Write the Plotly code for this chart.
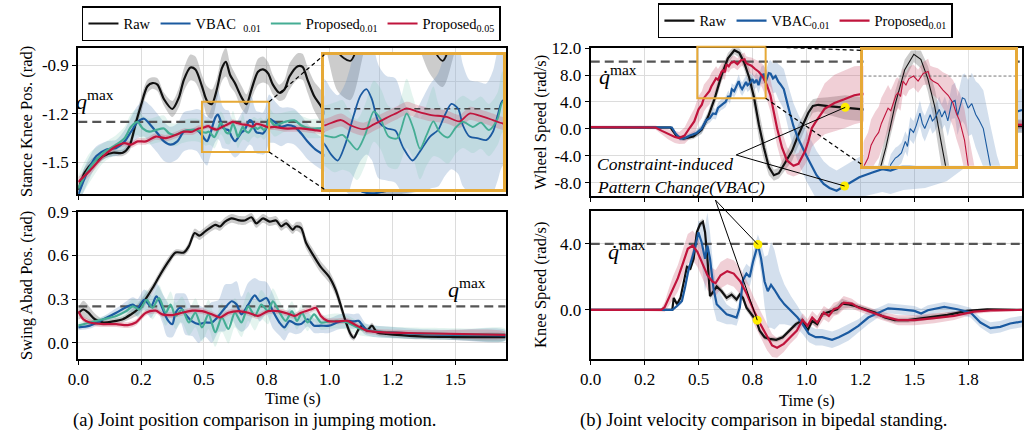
import plotly.graph_objects as go

W, H = 1030, 440
FONT = "Liberation Serif"

# ---------------- DATA (rows = time [s], mean, spread) ----------------
# (a) top: stance knee position (rad)
A_TOP_RAW = [
    (0.000, -1.67, 0.04), (0.026, -1.56, 0.03), (0.058, -1.50, 0.03), (0.100, -1.46, 0.02),
    (0.138, -1.44, 0.02), (0.177, -1.44, 0.02), (0.203, -1.40, 0.03), (0.230, -1.25, 0.04),
    (0.249, -1.15, 0.05), (0.275, -1.03, 0.04), (0.295, -1.01, 0.035), (0.315, -1.02, 0.04),
    (0.341, -1.11, 0.04), (0.374, -1.17, 0.05), (0.400, -1.10, 0.06), (0.420, -0.99, 0.07),
    (0.446, -0.914, 0.08), (0.466, -0.926, 0.08), (0.492, -1.03, 0.07), (0.512, -1.12, 0.09),
    (0.531, -1.14, 0.09), (0.551, -1.05, 0.07), (0.571, -0.92, 0.08), (0.587, -0.88, 0.09),
    (0.604, -0.96, 0.07), (0.623, -1.01, 0.06), (0.650, -1.10, 0.07), (0.669, -1.14, 0.06),
    (0.689, -1.05, 0.06), (0.715, -0.94, 0.08), (0.735, -0.926, 0.08), (0.755, -0.95, 0.07),
    (0.774, -1.02, 0.06), (0.800, -1.07, 0.05), (0.820, -1.05, 0.06), (0.840, -0.97, 0.08),
    (0.873, -0.906, 0.08), (0.892, -0.91, 0.08), (0.912, -0.99, 0.08), (0.938, -1.09, 0.09),
    (0.964, -1.15, 0.10), (1.000, -1.25, 0.10), (1.050, -1.40, 0.08), (1.100, -1.55, 0.06),
    (1.150, -1.66, 0.04), (1.200, -1.68, 0.04), (1.300, -1.65, 0.04), (1.400, -1.62, 0.04),
    (1.500, -1.60, 0.04), (1.600, -1.59, 0.04), (1.700, -1.58, 0.04),
]
A_TOP_VBAC = [
    (0.000, -1.70, 0.06), (0.033, -1.57, 0.07), (0.072, -1.46, 0.06), (0.112, -1.42, 0.05),
    (0.151, -1.41, 0.05), (0.184, -1.37, 0.07), (0.210, -1.31, 0.09), (0.236, -1.25, 0.10),
    (0.262, -1.23, 0.11), (0.288, -1.27, 0.12), (0.315, -1.32, 0.12), (0.341, -1.37, 0.12),
    (0.367, -1.39, 0.11), (0.394, -1.37, 0.11), (0.420, -1.31, 0.12), (0.446, -1.30, 0.12),
    (0.472, -1.30, 0.13), (0.493, -1.333, 0.15), (0.502, -1.355, 0.15), (0.512, -1.369, 0.15),
    (0.523, -1.333, 0.14), (0.536, -1.265, 0.14), (0.546, -1.220, 0.15), (0.555, -1.205, 0.15),
    (0.563, -1.228, 0.14), (0.573, -1.280, 0.13), (0.585, -1.295, 0.12), (0.598, -1.300, 0.12),
    (0.610, -1.340, 0.11), (0.624, -1.369, 0.10), (0.635, -1.348, 0.11), (0.650, -1.314, 0.12),
    (0.662, -1.299, 0.13), (0.672, -1.265, 0.14), (0.682, -1.239, 0.15), (0.692, -1.250, 0.15),
    (0.699, -1.288, 0.14), (0.709, -1.314, 0.13), (0.722, -1.318, 0.13), (0.734, -1.322, 0.13),
    (0.744, -1.303, 0.14), (0.751, -1.265, 0.15), (0.759, -1.231, 0.15), (0.781, -1.25, 0.13),
    (0.807, -1.28, 0.12), (0.833, -1.27, 0.11), (0.860, -1.28, 0.11), (0.886, -1.32, 0.11),
    (0.912, -1.37, 0.11), (0.944, -1.42, 0.10), (0.984, -1.46, 0.10), (1.030, -1.53, 0.09),
    (1.080, -1.62, 0.08), (1.130, -1.68, 0.06), (1.180, -1.69, 0.06), (1.250, -1.66, 0.06),
    (1.350, -1.62, 0.06), (1.450, -1.60, 0.06), (1.550, -1.59, 0.06), (1.700, -1.58, 0.06),
]
A_TOP_P01 = [
    (0.000, -1.66, 0.08), (0.046, -1.53, 0.09), (0.100, -1.44, 0.06), (0.151, -1.39, 0.06),
    (0.184, -1.35, 0.07), (0.210, -1.28, 0.08), (0.236, -1.25, 0.08), (0.256, -1.29, 0.08),
    (0.282, -1.31, 0.08), (0.308, -1.30, 0.08), (0.341, -1.29, 0.08), (0.361, -1.32, 0.07),
    (0.387, -1.33, 0.07), (0.413, -1.31, 0.07), (0.440, -1.30, 0.07), (0.472, -1.30, 0.07),
    (0.493, -1.312, 0.07), (0.507, -1.316, 0.08), (0.519, -1.310, 0.08), (0.529, -1.325, 0.07),
    (0.541, -1.344, 0.07), (0.553, -1.310, 0.07), (0.566, -1.256, 0.07), (0.576, -1.273, 0.07),
    (0.588, -1.314, 0.07), (0.601, -1.318, 0.07), (0.615, -1.261, 0.08), (0.625, -1.295, 0.07),
    (0.635, -1.342, 0.07), (0.645, -1.310, 0.07), (0.655, -1.279, 0.08), (0.664, -1.303, 0.06),
    (0.677, -1.316, 0.06), (0.689, -1.292, 0.06), (0.699, -1.280, 0.06), (0.714, -1.292, 0.06),
    (0.726, -1.282, 0.06), (0.738, -1.299, 0.06), (0.751, -1.273, 0.06), (0.759, -1.234, 0.07),
    (0.781, -1.27, 0.07), (0.820, -1.25, 0.06), (0.860, -1.24, 0.06), (0.886, -1.27, 0.06),
    (0.918, -1.29, 0.06), (0.951, -1.29, 0.06), (0.977, -1.29, 0.06), (1.030, -1.35, 0.07),
    (1.100, -1.50, 0.07), (1.200, -1.60, 0.06), (1.350, -1.60, 0.05), (1.500, -1.59, 0.05),
    (1.700, -1.58, 0.05),
]
A_TOP_P05 = [
    (0.000, -1.62, 0.03), (0.046, -1.55, 0.03), (0.100, -1.46, 0.02), (0.151, -1.40, 0.02),
    (0.184, -1.38, 0.02), (0.210, -1.39, 0.02), (0.236, -1.37, 0.02), (0.269, -1.37, 0.02),
    (0.308, -1.34, 0.02), (0.348, -1.35, 0.02), (0.387, -1.33, 0.02), (0.420, -1.31, 0.02),
    (0.453, -1.31, 0.02), (0.479, -1.29, 0.02), (0.493, -1.288, 0.015), (0.517, -1.276, 0.015),
    (0.531, -1.288, 0.015), (0.551, -1.297, 0.015), (0.566, -1.286, 0.015), (0.585, -1.271, 0.015),
    (0.600, -1.260, 0.015), (0.615, -1.249, 0.015), (0.630, -1.256, 0.015), (0.650, -1.264, 0.015),
    (0.675, -1.269, 0.015), (0.694, -1.279, 0.015), (0.709, -1.261, 0.015), (0.724, -1.266, 0.015),
    (0.744, -1.276, 0.015), (0.759, -1.284, 0.015), (0.780, -1.28, 0.02), (0.820, -1.29, 0.02),
    (0.886, -1.29, 0.02), (0.938, -1.30, 0.02), (0.977, -1.31, 0.02), (1.050, -1.38, 0.03),
    (1.150, -1.52, 0.03), (1.300, -1.58, 0.03), (1.500, -1.59, 0.03), (1.700, -1.59, 0.03),
]

# (a) bottom: swing abad position (rad)
A_BOT_RAW = [
    (0.000, 0.200, 0.04), (0.020, 0.228, 0.06), (0.040, 0.206, 0.05), (0.066, 0.161, 0.04),
    (0.100, 0.139, 0.02), (0.138, 0.146, 0.02), (0.177, 0.161, 0.02), (0.210, 0.195, 0.03),
    (0.236, 0.228, 0.04), (0.262, 0.285, 0.04), (0.295, 0.374, 0.03), (0.328, 0.474, 0.03),
    (0.361, 0.564, 0.03), (0.387, 0.620, 0.02), (0.420, 0.620, 0.02), (0.440, 0.664, 0.03),
    (0.463, 0.754, 0.03), (0.482, 0.736, 0.03), (0.505, 0.765, 0.03), (0.545, 0.810, 0.03),
    (0.564, 0.799, 0.03), (0.584, 0.832, 0.03), (0.610, 0.855, 0.03), (0.636, 0.843, 0.03),
    (0.662, 0.840, 0.03), (0.689, 0.862, 0.03), (0.708, 0.820, 0.03), (0.735, 0.855, 0.03),
    (0.761, 0.832, 0.03), (0.787, 0.840, 0.03), (0.807, 0.800, 0.03), (0.827, 0.820, 0.03),
    (0.853, 0.777, 0.03), (0.866, 0.799, 0.03), (0.886, 0.788, 0.04), (0.906, 0.687, 0.04),
    (0.932, 0.609, 0.04), (0.965, 0.519, 0.04), (0.998, 0.452, 0.04), (1.024, 0.362, 0.04),
    (1.043, 0.262, 0.04), (1.063, 0.150, 0.03), (1.083, 0.060, 0.03), (1.096, 0.034, 0.02),
    (1.112, 0.083, 0.02), (1.129, 0.117, 0.02), (1.148, 0.083, 0.02), (1.168, 0.117, 0.02),
    (1.188, 0.072, 0.02), (1.227, 0.060, 0.02), (1.358, 0.043, 0.02), (1.490, 0.039, 0.02),
    (1.700, 0.039, 0.02),
]
A_BOT_VBAC = [
    (0.000, 0.105, 0.02), (0.046, 0.117, 0.02), (0.100, 0.161, 0.02), (0.151, 0.206, 0.03),
    (0.190, 0.244, 0.04), (0.217, 0.262, 0.05), (0.236, 0.240, 0.06), (0.262, 0.295, 0.07),
    (0.289, 0.250, 0.08), (0.311, 0.318, 0.09), (0.334, 0.240, 0.10), (0.354, 0.161, 0.12),
    (0.374, 0.128, 0.09), (0.387, 0.206, 0.13), (0.407, 0.240, 0.10), (0.426, 0.195, 0.14),
    (0.453, 0.146, 0.10), (0.479, 0.128, 0.13), (0.505, 0.139, 0.10), (0.531, 0.139, 0.14),
    (0.558, 0.184, 0.11), (0.584, 0.240, 0.16), (0.610, 0.285, 0.12), (0.630, 0.262, 0.16),
    (0.649, 0.195, 0.12), (0.676, 0.262, 0.15), (0.702, 0.325, 0.12), (0.722, 0.285, 0.14),
    (0.748, 0.307, 0.11), (0.774, 0.217, 0.12), (0.800, 0.139, 0.09), (0.820, 0.105, 0.09),
    (0.840, 0.150, 0.08), (0.866, 0.128, 0.07), (0.886, 0.128, 0.06), (0.912, 0.161, 0.05),
    (0.938, 0.117, 0.05), (0.965, 0.117, 0.05), (0.998, 0.117, 0.05), (1.030, 0.139, 0.05),
    (1.063, 0.150, 0.05), (1.096, 0.146, 0.05), (1.115, 0.150, 0.05), (1.142, 0.094, 0.04),
    (1.174, 0.079, 0.04), (1.227, 0.072, 0.04), (1.358, 0.060, 0.035), (1.490, 0.054, 0.035),
    (1.700, 0.050, 0.035),
]
A_BOT_P01 = [
    (0.000, 0.117, 0.02), (0.046, 0.139, 0.02), (0.100, 0.161, 0.02), (0.151, 0.184, 0.03),
    (0.190, 0.217, 0.04), (0.217, 0.250, 0.05), (0.243, 0.228, 0.06), (0.272, 0.295, 0.07),
    (0.295, 0.240, 0.08), (0.321, 0.307, 0.09), (0.348, 0.206, 0.09), (0.367, 0.262, 0.09),
    (0.387, 0.184, 0.09), (0.413, 0.228, 0.09), (0.440, 0.139, 0.09), (0.466, 0.206, 0.10),
    (0.492, 0.105, 0.10), (0.518, 0.195, 0.10), (0.545, 0.072, 0.10), (0.571, 0.173, 0.10),
    (0.597, 0.094, 0.10), (0.623, 0.206, 0.10), (0.649, 0.139, 0.10), (0.676, 0.250, 0.10),
    (0.702, 0.184, 0.10), (0.728, 0.262, 0.10), (0.755, 0.217, 0.09), (0.774, 0.285, 0.09),
    (0.800, 0.210, 0.08), (0.825, 0.150, 0.07), (0.850, 0.215, 0.07), (0.870, 0.150, 0.06),
    (0.890, 0.206, 0.06), (0.912, 0.139, 0.06), (0.938, 0.195, 0.05), (0.965, 0.139, 0.05),
    (0.998, 0.146, 0.05), (1.030, 0.150, 0.05), (1.070, 0.139, 0.05), (1.122, 0.094, 0.045),
    (1.174, 0.079, 0.04), (1.250, 0.070, 0.04), (1.400, 0.062, 0.04), (1.550, 0.057, 0.04),
    (1.700, 0.055, 0.04),
]
A_BOT_P05 = [
    (0.000, 0.217, 0.02), (0.020, 0.161, 0.02), (0.046, 0.139, 0.02), (0.100, 0.128, 0.02),
    (0.151, 0.128, 0.02), (0.197, 0.121, 0.02), (0.229, 0.139, 0.02), (0.269, 0.206, 0.02),
    (0.308, 0.220, 0.02), (0.334, 0.195, 0.02), (0.374, 0.190, 0.02), (0.413, 0.206, 0.02),
    (0.453, 0.220, 0.02), (0.492, 0.217, 0.02), (0.531, 0.195, 0.02), (0.564, 0.173, 0.02),
    (0.597, 0.206, 0.02), (0.636, 0.217, 0.02), (0.676, 0.206, 0.02), (0.715, 0.184, 0.02),
    (0.755, 0.217, 0.02), (0.794, 0.217, 0.02), (0.833, 0.200, 0.02), (0.860, 0.184, 0.02),
    (0.886, 0.206, 0.02), (0.925, 0.228, 0.02), (0.945, 0.240, 0.02), (0.965, 0.184, 0.02),
    (0.991, 0.150, 0.02), (1.030, 0.146, 0.02), (1.070, 0.150, 0.02), (1.109, 0.117, 0.02),
    (1.148, 0.083, 0.02), (1.201, 0.072, 0.02), (1.358, 0.065, 0.02), (1.700, 0.054, 0.02),
]

# (b) top: wheel speed (rad/s)
B_TOP_RAW = [
    (0.000, 0.20, 0.2), (0.200, 0.20, 0.2), (0.370, 0.20, 0.2), (0.399, -1.12, 0.3),
    (0.430, -1.46, 0.3), (0.476, -1.12, 0.4), (0.514, -0.15, 0.6), (0.544, 1.79, 0.8),
    (0.574, 4.45, 1.0), (0.605, 7.85, 1.0), (0.636, 10.5, 0.8), (0.666, 11.7, 0.6),
    (0.689, 11.3, 0.7), (0.712, 9.8, 1.0), (0.735, 7.6, 1.4), (0.757, 4.7, 1.8),
    (0.780, 0.58, 2.0), (0.803, -2.8, 1.8), (0.826, -5.7, 1.2), (0.849, -6.9, 0.8),
    (0.872, -6.6, 0.8), (0.902, -5.0, 1.2), (0.933, -3.3, 1.5), (0.963, -0.87, 1.6),
    (0.994, 1.3, 1.4), (1.009, 2.4, 1.2), (1.030, 3.4, 1.0), (1.055, 3.58, 1.0),
    (1.100, 3.39, 1.3), (1.146, 3.25, 1.6), (1.180, 3.20, 1.8), (1.237, 3.0, 1.8),
    (1.300, 2.8, 1.6), (1.400, 2.4, 1.4), (1.500, 1.8, 1.3), (1.600, 1.1, 1.2),
    (1.700, 0.6, 1.1), (1.800, 0.3, 1.0), (1.900, 0.3, 1.0), (2.000, 0.4, 1.0),
]
B_TOP_VBAC = [
    (0.000, 0.25, 0.2), (0.200, 0.25, 0.2), (0.376, 0.20, 0.2), (0.392, -0.64, 0.3),
    (0.415, -1.46, 0.4), (0.437, -1.37, 0.4), (0.460, -0.98, 0.4), (0.490, -0.64, 0.5),
    (0.514, 0.00, 0.6), (0.536, 1.30, 0.7), (0.552, 1.60, 0.7), (0.567, 2.30, 0.8),
    (0.580, 2.20, 0.8), (0.590, 3.10, 0.8), (0.605, 3.60, 0.8), (0.613, 3.72, 0.8),
    (0.625, 4.00, 0.8), (0.638, 4.90, 0.8), (0.645, 4.50, 0.8), (0.654, 5.90, 0.9),
    (0.665, 5.60, 0.9), (0.674, 6.15, 0.9), (0.686, 7.10, 1.0), (0.694, 6.30, 1.0),
    (0.702, 5.90, 1.0), (0.712, 6.50, 1.0), (0.720, 6.98, 1.0), (0.727, 6.50, 1.0),
    (0.735, 6.70, 1.0), (0.750, 7.40, 1.0), (0.758, 6.80, 1.0), (0.768, 7.30, 1.1),
    (0.778, 6.50, 1.2), (0.791, 7.97, 1.3), (0.802, 8.10, 1.4), (0.810, 6.90, 1.5),
    (0.818, 7.70, 1.6), (0.826, 8.30, 1.8), (0.834, 8.20, 2.0), (0.845, 7.50, 2.2),
    (0.857, 7.85, 2.4), (0.870, 7.00, 2.6), (0.880, 6.60, 2.8), (0.895, 5.90, 3.0),
    (0.918, 3.00, 3.2), (0.940, 0.40, 3.4), (0.963, -1.50, 3.6), (1.000, -4.00, 3.8),
    (1.047, -6.90, 3.6), (1.080, -8.20, 3.4), (1.107, -8.80, 3.2), (1.140, -9.20, 3.0),
    (1.177, -8.50, 3.0), (1.210, -7.90, 3.0), (1.245, -7.20, 3.0), (1.306, -6.50, 3.2),
    (1.352, -6.00, 3.4), (1.390, -6.20, 3.5), (1.450, -5.50, 3.6), (1.550, -5.00, 3.8),
    (1.650, -4.00, 3.8), (1.750, -2.00, 3.4), (1.850, 0.50, 3.0), (1.950, 2.30, 3.0),
    (2.000, 2.80, 3.2),
]
B_TOP_P01 = [
    (0.000, 0.25, 0.2), (0.200, 0.25, 0.2), (0.300, 0.20, 0.3), (0.330, -0.30, 0.5),
    (0.360, -0.80, 0.8), (0.390, -1.20, 0.9), (0.410, -1.37, 0.9), (0.435, -1.00, 1.2),
    (0.460, 0.20, 1.6), (0.480, 1.10, 1.9), (0.500, 2.90, 2.0), (0.515, 3.60, 2.0),
    (0.525, 4.60, 2.0), (0.538, 5.20, 2.0), (0.550, 5.60, 2.0), (0.559, 6.30, 2.0),
    (0.570, 6.90, 1.9), (0.581, 7.50, 1.8), (0.590, 7.30, 1.6), (0.598, 7.90, 1.5),
    (0.607, 8.50, 1.3), (0.614, 8.70, 1.2), (0.622, 8.40, 1.1), (0.630, 9.60, 1.0),
    (0.640, 9.30, 0.9), (0.650, 9.80, 0.9), (0.665, 10.0, 0.9), (0.680, 9.60, 0.9),
    (0.697, 10.2, 0.9), (0.713, 10.35, 1.0), (0.720, 9.80, 1.0), (0.730, 9.60, 1.1),
    (0.745, 9.40, 1.2), (0.762, 8.90, 1.4), (0.779, 8.50, 1.6), (0.795, 7.90, 1.8),
    (0.806, 7.10, 2.0), (0.817, 6.50, 2.2), (0.833, 5.00, 2.4), (0.845, 3.00, 2.6),
    (0.864, 0.10, 2.6), (0.887, -2.80, 2.4), (0.910, -4.70, 2.0), (0.940, -5.50, 1.6),
    (0.963, -5.20, 1.6), (0.994, -3.30, 2.0), (1.009, -1.85, 2.4), (1.025, 0.10, 2.8),
    (1.040, 0.90, 3.0), (1.085, 3.00, 3.8), (1.130, 3.85, 4.2), (1.176, 4.40, 4.3),
    (1.222, 5.00, 4.3), (1.260, 5.20, 4.2), (1.350, 5.00, 3.8), (1.450, 4.00, 3.2),
    (1.550, 3.00, 2.6), (1.650, 2.00, 2.0), (1.750, 1.20, 1.5), (1.850, 0.80, 1.0),
    (2.000, 0.60, 0.6),
]

# (b) bottom: knee speed (rad/s)
B_BOT_RAW = [
    (0.000, 0.00, 0.05), (0.200, 0.00, 0.05), (0.378, 0.00, 0.05), (0.385, 0.73, 0.10),
    (0.400, 0.34, 0.10), (0.416, 0.73, 0.10), (0.431, 1.72, 0.15), (0.446, 2.61, 0.15),
    (0.462, 2.50, 0.15), (0.477, 3.10, 0.15), (0.492, 4.70, 0.20), (0.507, 5.19, 0.20),
    (0.520, 5.33, 0.20), (0.530, 4.70, 0.20), (0.541, 3.10, 0.20), (0.553, 0.83, 0.20),
    (0.569, 1.13, 0.20), (0.584, 1.42, 0.20), (0.607, 1.13, 0.20), (0.630, 0.73, 0.20),
    (0.653, 0.93, 0.20), (0.676, 0.63, 0.20), (0.691, 0.93, 0.20), (0.706, 0.73, 0.20),
    (0.722, 0.14, 0.20), (0.745, -0.26, 0.20), (0.768, -0.66, 0.20), (0.783, -1.25, 0.20),
    (0.806, -1.65, 0.15), (0.829, -1.75, 0.15), (0.860, -1.81, 0.15), (0.890, -1.65, 0.15),
    (0.920, -1.25, 0.15), (0.951, -0.86, 0.15), (0.982, -0.62, 0.20), (1.005, -1.25, 0.20),
    (1.027, -0.66, 0.20), (1.050, -0.86, 0.20), (1.073, -0.26, 0.20), (1.096, -0.16, 0.20),
    (1.119, -0.06, 0.20), (1.142, 0.04, 0.30), (1.165, 0.38, 0.30), (1.196, 0.34, 0.20),
    (1.226, 0.24, 0.15), (1.272, 0.04, 0.15), (1.318, -0.16, 0.15), (1.364, -0.46, 0.15),
    (1.410, -0.62, 0.15), (1.471, -0.62, 0.15), (1.563, -0.46, 0.15), (1.654, -0.30, 0.15),
    (1.746, -0.06, 0.10), (1.838, 0.04, 0.05), (2.000, 0.00, 0.05),
]
B_BOT_VBAC = [
    (0.000, 0.00, 0.05), (0.200, 0.00, 0.05), (0.378, 0.00, 0.05), (0.400, 0.24, 0.10),
    (0.423, 0.54, 0.15), (0.438, 1.42, 0.20), (0.453, 2.41, 0.30), (0.469, 3.10, 0.40),
    (0.484, 3.80, 0.50), (0.499, 4.70, 0.70), (0.514, 4.10, 1.20), (0.530, 3.10, 2.00),
    (0.541, 3.90, 2.00), (0.553, 3.10, 1.60), (0.569, 1.32, 1.20), (0.584, 0.34, 1.00),
    (0.607, 0.04, 0.80), (0.630, -0.26, 0.60), (0.653, -0.36, 0.50), (0.676, -0.46, 0.50),
    (0.691, 0.14, 0.50), (0.706, 1.82, 0.60), (0.722, 2.20, 0.60), (0.737, 2.00, 0.60),
    (0.752, 2.90, 0.60), (0.768, 3.70, 0.60), (0.775, 3.96, 0.60), (0.790, 3.10, 0.90),
    (0.806, 1.72, 1.50), (0.821, 1.13, 2.20), (0.836, 1.52, 2.60), (0.852, 1.22, 2.40),
    (0.875, 0.73, 1.60), (0.898, 0.34, 1.20), (0.928, -0.06, 0.90), (0.959, -0.46, 0.70),
    (0.982, -0.86, 0.60), (1.012, -1.45, 0.50), (1.043, -1.65, 0.50), (1.073, -1.65, 0.50),
    (1.119, -1.81, 0.50), (1.150, -1.65, 0.50), (1.196, -1.35, 0.50), (1.241, -0.96, 0.40),
    (1.287, -0.46, 0.40), (1.333, -0.16, 0.30), (1.379, 0.10, 0.30), (1.440, 0.04, 0.30),
    (1.501, -0.06, 0.30), (1.532, -0.22, 0.30), (1.563, -0.02, 0.30), (1.639, 0.18, 0.30),
    (1.700, 0.04, 0.30), (1.761, -0.16, 0.30), (1.807, -0.76, 0.30), (1.853, -1.10, 0.35),
    (1.899, -1.02, 0.35), (1.945, -0.82, 0.35), (2.000, -0.70, 0.35),
]
B_BOT_P01 = [
    (0.000, 0.00, 0.05), (0.200, 0.00, 0.05), (0.327, 0.00, 0.10), (0.343, 0.18, 0.30),
    (0.358, 0.63, 0.50), (0.381, 1.32, 0.70), (0.404, 1.92, 0.80), (0.427, 2.80, 0.90),
    (0.450, 3.70, 0.90), (0.473, 3.90, 0.90), (0.495, 3.50, 0.90), (0.518, 2.80, 0.90),
    (0.541, 2.10, 0.90), (0.564, 1.72, 0.80), (0.579, 1.62, 0.80), (0.602, 2.10, 0.80),
    (0.633, 2.35, 0.80), (0.663, 2.20, 0.80), (0.694, 1.72, 0.80), (0.725, 0.93, 0.80),
    (0.757, -0.06, 0.80), (0.787, -0.86, 0.80), (0.818, -1.65, 0.80), (0.841, -2.15, 0.70),
    (0.864, -2.29, 0.60), (0.895, -2.05, 0.50), (0.925, -1.65, 0.40), (0.956, -1.25, 0.40),
    (0.982, -0.60, 0.40), (1.005, -0.96, 0.40), (1.027, -0.46, 0.40), (1.050, -0.76, 0.40),
    (1.081, -0.16, 0.40), (1.104, -0.36, 0.40), (1.127, 0.04, 0.40), (1.150, 0.14, 0.40),
    (1.173, 0.44, 0.40), (1.211, 0.38, 0.30), (1.241, 0.14, 0.25), (1.287, -0.06, 0.25),
    (1.349, -0.36, 0.25), (1.425, -0.62, 0.30), (1.501, -0.62, 0.30), (1.593, -0.50, 0.30),
    (1.685, -0.36, 0.25), (1.777, -0.10, 0.15), (1.869, -0.02, 0.10), (2.000, 0.00, 0.05),
]

# highlighted points (time s, value)
DOTS_B_TOP_T = [1.180, 1.177]
DOTS_B_TOP_V = [3.20, -8.50]
DOTS_B_BOT_T = [0.775, 0.772]
DOTS_B_BOT_V = [3.96, -0.62]

# limits
QMAX_A_TOP = -1.25
QMAX_A_BOT = 0.25
QDMAX_B_TOP = 10.0
QDMAX_B_BOT = 4.0

# axis ticks / ranges
X_TICKS_A = [0.0, 0.25, 0.5, 0.75, 1.0, 1.25, 1.5]
X_TICKS_B = [0.0, 0.25, 0.5, 0.75, 1.0, 1.25, 1.5, 1.75]
Y_TICKS_A_TOP = [-1.5, -1.2, -0.9]
Y_TICKS_A_BOT = [0.0, 0.3, 0.6, 0.9]
Y_TICKS_B_TOP = [-8.0, -4.0, 0.0, 4.0, 8.0, 12.0]
Y_TICKS_B_BOT = [0.0, 4.0]
XR_A = [0.0, 1.70]
XR_B = [0.0, 2.0]
YR_A_TOP = [-1.695, -0.795]
YR_A_BOT = [-0.11, 0.90]
YR_B_TOP = [-10.0, 12.0]
YR_B_BOT = [-2.95, 6.0]
# zoom windows
ZOOM_A_X = [0.492, 0.759]
ZOOM_A_Y = [-1.435, -1.126]
BOX_B_X = [0.494, 0.811]
BOX_B_Y = [4.55, 12.2]
ZOOM_B_X = [0.5, 1.0]
ZOOM_B_Y = [3.0, 12.0]

# ---------------- STYLE ----------------
BLACK = "#111111"
BLUE = "#1b5aa0"
TEAL = "#45ad94"
RED = "#c0143c"
BAND_GRAY = "rgba(120,120,120,0.38)"
BAND_BLUE = "rgba(96,140,190,0.28)"
BAND_TEAL = "rgba(120,200,175,0.20)"
BAND_RED = "rgba(205,95,120,0.30)"
ORANGE = "#e6a937"
GRID = "#dcdcdc"


def px_x(p):
    return p / W


def px_y(p):
    return 1 - p / H


def to_paper(v, rng, dom):
    return dom[0] + (v - rng[0]) / (rng[1] - rng[0]) * (dom[1] - dom[0])


A_XDOM = [px_x(68), px_x(500)]
B_XDOM = [px_x(586), px_x(1022)]
A_TOP_YDOM = [px_y(189), px_y(40)]
A_BOT_YDOM = [px_y(357), px_y(207)]
B_TOP_YDOM = [px_y(191), px_y(40)]
B_BOT_YDOM = [px_y(357), px_y(206)]
INSET_A_XDOM = [px_x(316.7), px_x(497.3)]
INSET_A_YDOM = [px_y(184), px_y(46.7)]
INSET_B_XDOM = [px_x(861.7), px_x(1015)]
INSET_B_YDOM = [px_y(160), px_y(42.3)]

fig = go.Figure()


def cols(rows):
    t = [r[0] for r in rows]
    m = [r[1] for r in rows]
    s = [r[2] for r in rows]
    return t, m, s


def add_band(rows, fill, xa, ya, shape):
    t, m, s = cols(rows)
    up = [a + b for a, b in zip(m, s)]
    lo = [a - b for a, b in zip(m, s)]
    fig.add_trace(go.Scatter(
        x=t + t[::-1], y=up + lo[::-1], mode="lines", fill="toself", fillcolor=fill,
        line=dict(width=0, color="rgba(0,0,0,0)", shape=shape, smoothing=0.8),
        hoverinfo="skip", showlegend=False, xaxis=xa, yaxis=ya))


def add_line(rows, color, width, xa, ya, shape, name=None, legend=None):
    t, m, s = cols(rows)
    fig.add_trace(go.Scatter(
        x=t, y=m, mode="lines", line=dict(color=color, width=width, shape=shape, smoothing=0.8),
        name=name if name else "", showlegend=name is not None,
        legend=legend if legend else "legend", hoverinfo="skip", xaxis=xa, yaxis=ya))


def add_limit(val, rng, xa, ya, color, width, dash):
    fig.add_trace(go.Scatter(
        x=rng, y=[val, val], mode="lines", line=dict(color=color, width=width, dash=dash),
        showlegend=False, hoverinfo="skip", xaxis=xa, yaxis=ya))


A_TOP_SERIES = [
    (A_TOP_RAW, BLACK, BAND_GRAY, "Raw"),
    (A_TOP_VBAC, BLUE, BAND_BLUE, "VBAC\u00a0\u00a0<sub>0.01</sub>"),
    (A_TOP_P01, TEAL, BAND_TEAL, "Proposed<sub>0.01</sub>"),
    (A_TOP_P05, RED, BAND_RED, "Proposed<sub>0.05</sub>"),
]
A_BOT_SERIES = [
    (A_BOT_RAW, BLACK, BAND_GRAY), (A_BOT_VBAC, BLUE, BAND_BLUE),
    (A_BOT_P01, TEAL, BAND_TEAL), (A_BOT_P05, RED, BAND_RED),
]
B_TOP_SERIES = [
    (B_TOP_RAW, BLACK, BAND_GRAY, "Raw"),
    (B_TOP_VBAC, BLUE, BAND_BLUE, "VBAC<sub>0.01</sub>"),
    (B_TOP_P01, RED, BAND_RED, "Proposed<sub>0.01</sub>"),
]
B_BOT_SERIES = [
    (B_BOT_RAW, BLACK, BAND_GRAY), (B_BOT_VBAC, BLUE, BAND_BLUE), (B_BOT_P01, RED, BAND_RED),
]

# --- (a) top main
for rows, c, b, n in A_TOP_SERIES:
    add_band(rows, b, "x", "y", "spline")
add_limit(QMAX_A_TOP, XR_A, "x", "y", "#555555", 2.2, "9px,5px")
for rows, c, b, n in A_TOP_SERIES:
    add_line(rows, c, 2.2, "x", "y", "spline", name=n, legend="legend")
# --- (a) bottom
for rows, c, b in A_BOT_SERIES:
    add_band(rows, b, "x2", "y2", "spline")
add_limit(QMAX_A_BOT, XR_A, "x2", "y2", "#555555", 2.2, "9px,5px")
for rows, c, b in A_BOT_SERIES:
    add_line(rows, c, 2.2, "x2", "y2", "spline")
# --- (b) top main
for rows, c, b, n in B_TOP_SERIES:
    add_band(rows, b, "x3", "y3", "linear")
add_limit(QDMAX_B_TOP, XR_B, "x3", "y3", "#555555", 2.2, "9px,5px")
for rows, c, b, n in B_TOP_SERIES:
    add_line(rows, c, 2.2, "x3", "y3", "linear", name=n, legend="legend2")
fig.add_trace(go.Scatter(x=DOTS_B_TOP_T, y=DOTS_B_TOP_V, mode="markers",
                         marker=dict(color="#ffee00", size=9), showlegend=False,
                         hoverinfo="skip", xaxis="x3", yaxis="y3"))
# --- (b) bottom
for rows, c, b in B_BOT_SERIES:
    add_band(rows, b, "x4", "y4", "linear")
add_limit(QDMAX_B_BOT, XR_B, "x4", "y4", "#555555", 2.2, "9px,5px")
for rows, c, b in B_BOT_SERIES:
    add_line(rows, c, 2.2, "x4", "y4", "linear")
fig.add_trace(go.Scatter(x=DOTS_B_BOT_T, y=DOTS_B_BOT_V, mode="markers",
                         marker=dict(color="#ffee00", size=9), showlegend=False,
                         hoverinfo="skip", xaxis="x4", yaxis="y4"))
# --- (a) inset
for rows, c, b, n in A_TOP_SERIES:
    add_band(rows, b, "x5", "y5", "spline")
add_limit(QMAX_A_TOP, ZOOM_A_X, "x5", "y5", "#444444", 1.6, "6px,4px")
for rows, c, b, n in A_TOP_SERIES:
    add_line(rows, c, 1.8, "x5", "y5", "spline")
# --- (b) inset
for rows, c, b, n in B_TOP_SERIES:
    add_band(rows, b, "x6", "y6", "linear")
add_limit(QDMAX_B_TOP, ZOOM_B_X, "x6", "y6", "#777777", 1.0, "3px,2px")
for rows, c, b, n in B_TOP_SERIES:
    add_line(rows, c, 1.1, "x6", "y6", "linear")


def main_axis(dom, rng, anchor, tickvals, labels):
    return dict(domain=dom, range=rng, anchor=anchor, showline=True, mirror=True,
                linecolor="black", linewidth=2, ticks="outside", ticklen=4, tickwidth=1.2,
                tickcolor="black", showgrid=True, gridcolor=GRID, gridwidth=1.2,
                zeroline=False, tickmode="array", tickvals=tickvals,
                ticktext=[format(v, ".1f") for v in tickvals], showticklabels=labels,
                tickfont=dict(family=FONT, size=17, color="black"), fixedrange=True)


def inset_axis(dom, rng, anchor, fracs):
    return dict(domain=dom, range=rng, anchor=anchor, showline=True, mirror=True,
                linecolor=ORANGE, linewidth=2.5, ticks="", showticklabels=False,
                showgrid=True, gridcolor="#e2e2e2", gridwidth=1, zeroline=False,
                tickmode="array", tickvals=[rng[0] + f * (rng[1] - rng[0]) for f in fracs],
                fixedrange=True)


LEGEND_STYLE = dict(xanchor="center", yanchor="top", orientation="h", bordercolor="black",
                    borderwidth=1.5, bgcolor="white", tracegroupgap=0,
                    font=dict(family=FONT, size=14.5, color="black"))

layout = dict(
    width=W, height=H, margin=dict(l=0, r=0, t=0, b=0),
    paper_bgcolor="white", plot_bgcolor="white", hovermode=False,
    font=dict(family=FONT, color="black"),
    xaxis=main_axis(A_XDOM, XR_A, "y", X_TICKS_A, False),
    yaxis=main_axis(A_TOP_YDOM, YR_A_TOP, "x", Y_TICKS_A_TOP, True),
    xaxis2=main_axis(A_XDOM, XR_A, "y2", X_TICKS_A, True),
    yaxis2=main_axis(A_BOT_YDOM, YR_A_BOT, "x2", Y_TICKS_A_BOT, True),
    xaxis3=main_axis(B_XDOM, XR_B, "y3", X_TICKS_B, False),
    yaxis3=main_axis(B_TOP_YDOM, YR_B_TOP, "x3", Y_TICKS_B_TOP, True),
    xaxis4=main_axis(B_XDOM, XR_B, "y4", X_TICKS_B, True),
    yaxis4=main_axis(B_BOT_YDOM, YR_B_BOT, "x4", Y_TICKS_B_BOT, True),
    xaxis5=inset_axis(INSET_A_XDOM, ZOOM_A_X, "y5", [0.31, 0.735]),
    yaxis5=inset_axis(INSET_A_YDOM, ZOOM_A_Y, "x5", [0.19, 0.8]),
    xaxis6=inset_axis(INSET_B_XDOM, ZOOM_B_X, "y6", [0.341, 0.693]),
    yaxis6=inset_axis(INSET_B_YDOM, ZOOM_B_Y, "x6", [0.538]),
    legend=dict(x=px_x(283.5), y=px_y(-3), **LEGEND_STYLE),
    legend2=dict(x=px_x(803), y=px_y(-6), **LEGEND_STYLE),
)
fig.update_layout(**layout)

shapes = []
# zoom boxes and connectors
ax0 = to_paper(ZOOM_A_X[0], XR_A, A_XDOM)
ax1 = to_paper(ZOOM_A_X[1], XR_A, A_XDOM)
ay0 = to_paper(ZOOM_A_Y[0], YR_A_TOP, A_TOP_YDOM)
ay1 = to_paper(ZOOM_A_Y[1], YR_A_TOP, A_TOP_YDOM)
shapes.append(dict(type="rect", xref="paper", yref="paper", x0=ax0, x1=ax1, y0=ay0, y1=ay1,
                   line=dict(color=ORANGE, width=2)))
shapes.append(dict(type="line", xref="paper", yref="paper", x0=ax1, y0=ay1,
                   x1=INSET_A_XDOM[0], y1=INSET_A_YDOM[1], line=dict(color="black", width=1.2, dash="4px,3px")))
shapes.append(dict(type="line", xref="paper", yref="paper", x0=ax1, y0=ay0,
                   x1=INSET_A_XDOM[0], y1=INSET_A_YDOM[0], line=dict(color="black", width=1.2, dash="4px,3px")))
bx0 = to_paper(BOX_B_X[0], XR_B, B_XDOM)
bx1 = to_paper(BOX_B_X[1], XR_B, B_XDOM)
by0 = to_paper(BOX_B_Y[0], YR_B_TOP, B_TOP_YDOM)
by1 = to_paper(BOX_B_Y[1], YR_B_TOP, B_TOP_YDOM)
shapes.append(dict(type="rect", xref="paper", yref="paper", x0=bx0, x1=bx1, y0=by0, y1=by1,
                   line=dict(color=ORANGE, width=2)))
shapes.append(dict(type="line", xref="paper", yref="paper", x0=bx1, y0=by1,
                   x1=INSET_B_XDOM[0], y1=INSET_B_YDOM[1], line=dict(color="black", width=1.2, dash="4px,3px")))
shapes.append(dict(type="line", xref="paper", yref="paper", x0=bx1, y0=by0,
                   x1=INSET_B_XDOM[0], y1=INSET_B_YDOM[0], line=dict(color="black", width=1.2, dash="4px,3px")))
# annotation pointer lines
for t, v in zip(DOTS_B_TOP_T, DOTS_B_TOP_V):
    shapes.append(dict(type="line", xref="paper", yref="paper", x0=px_x(733), y0=px_y(149),
                       x1=to_paper(t, XR_B, B_XDOM), y1=to_paper(v, YR_B_TOP, B_TOP_YDOM),
                       line=dict(color="black", width=1)))
for t, v in zip(DOTS_B_BOT_T, DOTS_B_BOT_V):
    shapes.append(dict(type="line", xref="paper", yref="paper", x0=px_x(712), y0=px_y(195),
                       x1=to_paper(t, XR_B, B_XDOM), y1=to_paper(v, YR_B_BOT, B_BOT_YDOM),
                       line=dict(color="black", width=1)))
fig.update_layout(shapes=shapes)


def note(text, x, y, size, xanchor="center", yanchor="middle", angle=0):
    return dict(text=text, x=px_x(x), y=px_y(y), xref="paper", yref="paper", showarrow=False,
                xanchor=xanchor, yanchor=yanchor, textangle=angle,
                font=dict(family=FONT, size=size, color="black"))


QDOT = "q\u0307"
annotations = [
    note("Stance Knee Pos. (rad)", 15, 114.5, 16.5, angle=-90),
    note("Swing Abad Pos. (rad)", 15, 282, 16.5, angle=-90),
    note("Wheel Speed (rad/s)", 535, 115.5, 16.5, angle=-90),
    note("Knee Speed (rad/s)", 535, 281.5, 16.5, angle=-90),
    note("Time (s)", 285, 398, 16.5),
    note("Time (s)", 805, 400, 16.5),
    note("(a) Joint position comparison in jumping motion.", 246, 420, 18.5),
    note("(b) Joint velocity comparison in bipedal standing.", 761, 420, 18.5),
    note("<i>q</i><sup>max</sup>", 64, 93, 22, xanchor="left"),
    note("<i>q</i><sup>max</sup>", 440, 285, 22, xanchor="left"),
    note("<i>" + QDOT + "</i><sup>max</sup>", 592, 67, 22, xanchor="left"),
    note("<i>" + QDOT + "</i><sup>max</sup>", 601, 246, 22, xanchor="left"),
    note("<i>Constraint-induced</i>", 590, 158, 17.5, xanchor="left"),
    note("<i>Pattern Change(VBAC)</i>", 590, 182, 17.5, xanchor="left"),
]
fig.update_layout(annotations=annotations)

fig.write_html("out.html", config={"displayModeBar": False})
